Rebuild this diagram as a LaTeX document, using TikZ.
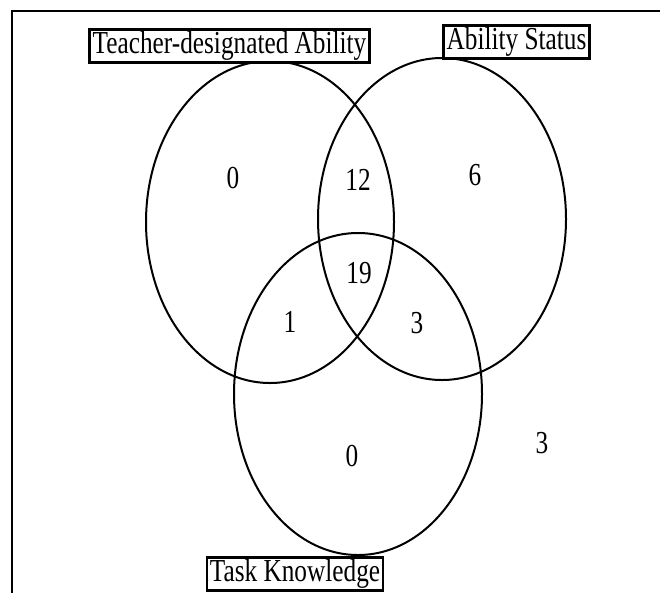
\documentclass[tikz,border=0pt]{standalone}
\usepackage{fontspec}
\setmainfont[FakeStretch=0.79]{Liberation Serif}
\usetikzlibrary{shapes.geometric}
\begin{document}
\begin{tikzpicture}[x=1pt,y=-1pt,
  setshape/.style={ellipse, draw, line width=2pt, minimum width=248pt, minimum height=322pt, inner sep=0pt},
  titlebox/.style={draw, line width=2.5pt, fill=white, inner xsep=3pt, inner ysep=2pt,
    text height=22pt, text depth=7pt, font=\fontsize{32}{38}\selectfont},
  count/.style={font=\fontsize{32}{38}\selectfont, inner sep=0pt}]
\useasboundingbox (0,0) rectangle (660,592);
\coordinate (fbl) at (12,600);
\coordinate (ftl) at (12,11);
\coordinate (ftr) at (668,11);
\draw[line width=2pt] (fbl) -- (ftl) -- (ftr);
\node[setshape] (teacher) at (270,222) {};
\node[setshape] (status) at (442,219) {};
\node[setshape] (task) at (358,394) {};
\node[titlebox] (tlab) at (229.5,46) {Teacher-designated Ability};
\node[titlebox] (slab) at (516.5,42) {Ability Status};
\node[titlebox] (klab) at (295,574) {Task Knowledge};
\node[count] (n1) at (233,178) {0};
\node[count] (n2) at (358,180) {12};
\node[count] (n3) at (475,175) {6};
\node[count] (n4) at (359,273) {19};
\node[count] (n5) at (290,322) {1};
\node[count] (n6) at (417,323) {3};
\node[count] (n7) at (352,456) {0};
\node[count] (n8) at (542,443) {3};
\end{tikzpicture}
\end{document}
